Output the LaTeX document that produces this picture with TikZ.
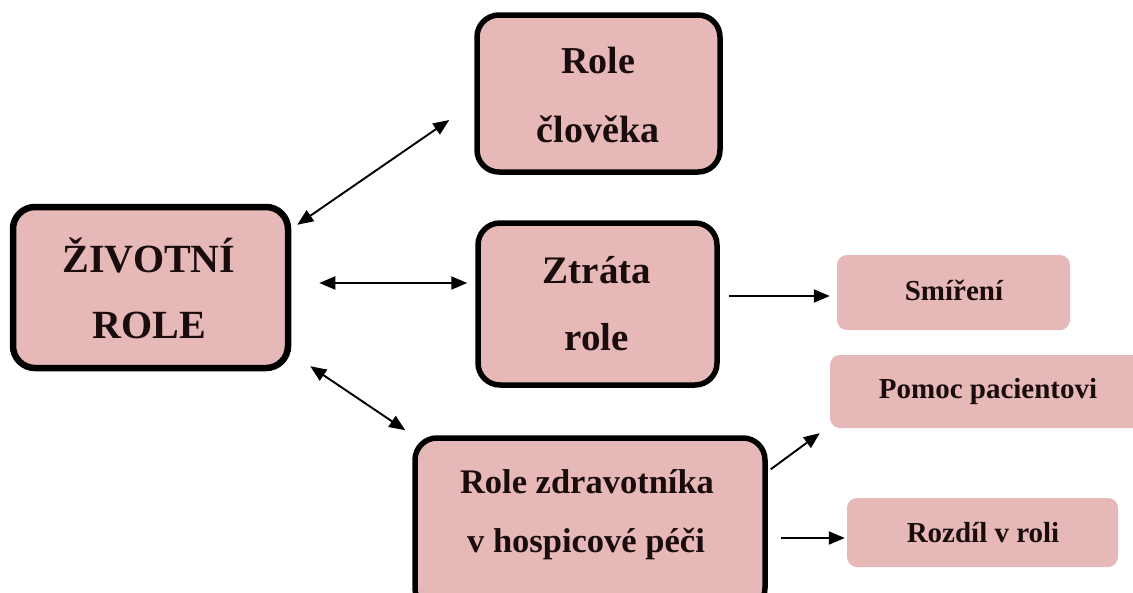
\documentclass[tikz,border=0pt]{standalone}
\usepackage{fontspec}
\setmainfont{Liberation Serif}
\usetikzlibrary{arrows.meta}
\definecolor{rosefill}{HTML}{E6B8B7}
\definecolor{inkdark}{HTML}{1A0C0C}
\tikzset{
  bigbox/.style={draw=black, line width=5.5pt, fill=rosefill, rounded corners=22pt, inner sep=0pt},
  smallbox/.style={fill=rosefill, rounded corners=10pt, inner sep=0pt},
  label/.style={anchor=base, inner sep=0pt, text=inkdark, font=\bfseries},
  tip/.style={Triangle[length=16pt,width=13pt]},
  link/.style={line width=1.9pt, -{Triangle[length=16pt,width=13pt]}},
  dbl/.style={line width=1.9pt, {Triangle[length=16pt,width=13pt]}-{Triangle[length=16pt,width=13pt]}}
}
\begin{document}
\begin{tikzpicture}[x=1pt, y=-1pt]
\clip (0,0) rectangle (1133,592);
\fill[white] (0,0) rectangle (1133,592);

% main box
\node[bigbox, line width=6.5pt, minimum width=275pt, minimum height=161pt] (main) at (150.5,287.5) {};
\node[label, font=\bfseries\fontsize{40}{40}\selectfont] (mainA) at (149,272) {ŽIVOTNÍ};
\node[label, font=\bfseries\fontsize{40}{40}\selectfont] (mainB) at (149,338) {ROLE};

% upper box
\node[bigbox, minimum width=243pt, minimum height=157pt] (clovek) at (598.5,93.5) {};
\node[label, font=\bfseries\fontsize{38}{38}\selectfont] (clovekA) at (598,73) {Role};
\node[label, font=\bfseries\fontsize{38}{38}\selectfont] (clovekB) at (598,142) {člověka};

% middle box
\node[bigbox, minimum width=239pt, minimum height=162pt] (ztrata) at (597.5,304) {};
\node[label, font=\bfseries\fontsize{39}{39}\selectfont] (ztrataA) at (597,283) {Ztráta};
\node[label, font=\bfseries\fontsize{39}{39}\selectfont] (ztrataB) at (597,350) {role};

% lower box
\node[bigbox, minimum width=350pt, minimum height=172pt] (zdrav) at (590,524) {};
\node[label, font=\bfseries\fontsize{34.5}{34.5}\selectfont] (zdravA) at (587,493) {Role zdravotníka};
\node[label, font=\bfseries\fontsize{34.5}{34.5}\selectfont] (zdravB) at (586,552) {v hospicové péči};

% small boxes
\node[smallbox, minimum width=233pt, minimum height=75pt] (smireni) at (953.5,292.5) {};
\node[label, font=\bfseries\fontsize{29}{29}\selectfont] (smireniT) at (954,300) {Smíření};

\node[smallbox, minimum width=316pt, minimum height=73pt] (pomoc) at (988,391.5) {};
\node[label, font=\bfseries\fontsize{29}{29}\selectfont] (pomocT) at (988,398) {Pomoc pacientovi};

\node[smallbox, minimum width=271pt, minimum height=69pt] (rozdil) at (982.5,532.5) {};
\node[label, font=\bfseries\fontsize{29}{29}\selectfont] (rozdilT) at (983,542) {Rozdíl v roli};

% connectors
\draw[dbl] ([shift={(6,21)}]main.north east) -- ([shift={(-25,26.5)}]clovek.west);
\draw[dbl] ([shift={(28,-4.5)}]main.east) -- ([shift={(-8,-21)}]ztrata.west);
\draw[dbl] ([shift={(19,-5)}]main.south east) -- ([shift={(-7,-5)}]zdrav.north west);
\draw[link] ([shift={(9,-8)}]ztrata.east) -- ([shift={(-7,3.5)}]smireni.west);
\draw[link] ([shift={(3,34)}]zdrav.north east) -- ([shift={(-10,5)}]pomoc.south west);
\draw[link] ([shift={(13,14)}]zdrav.east) -- ([shift={(-2,5.5)}]rozdil.west);
\end{tikzpicture}
\end{document}
